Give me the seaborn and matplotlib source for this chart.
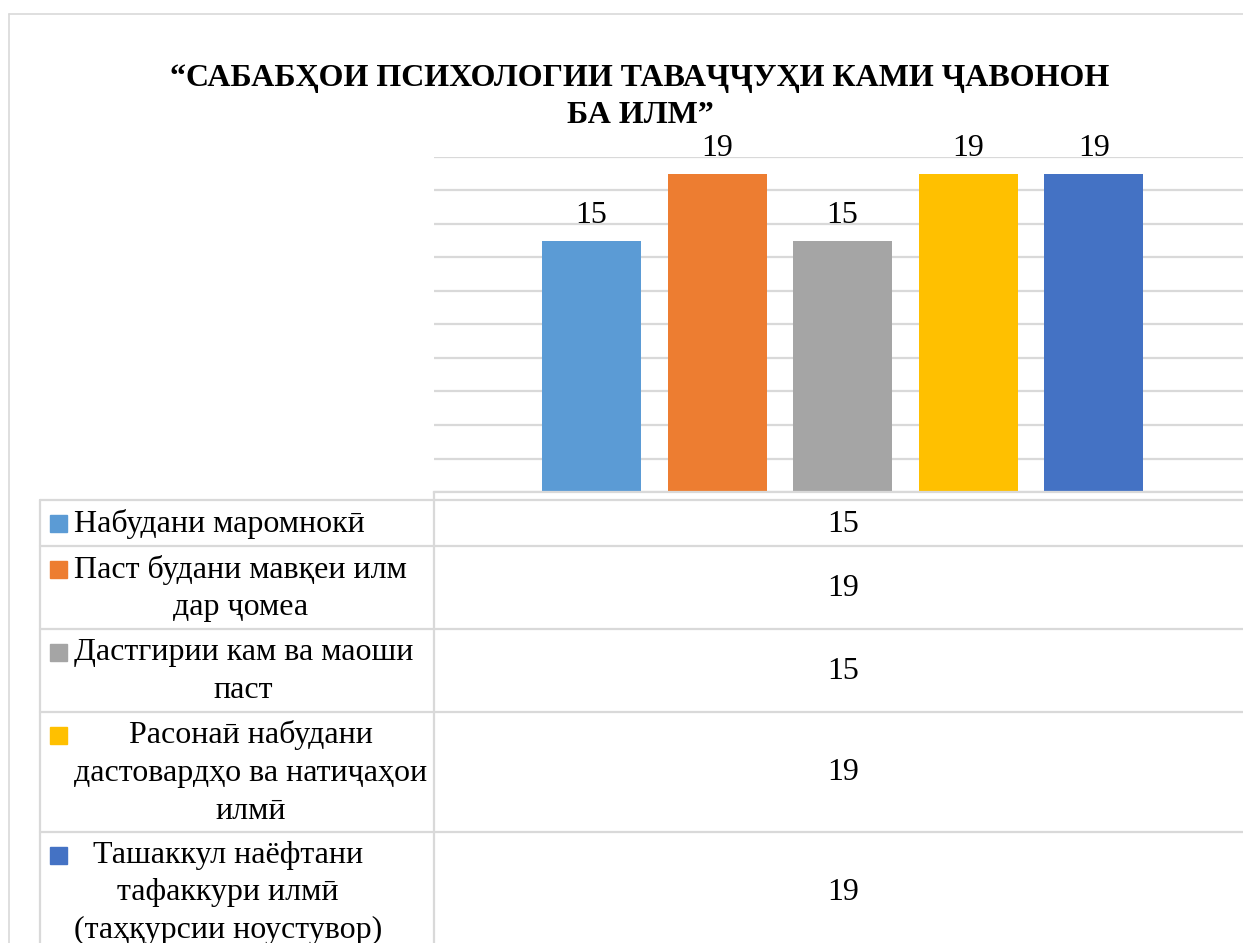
import pandas as pd
import matplotlib.pyplot as plt
from matplotlib.patches import Rectangle
import seaborn as sns

# data
categories = ['Набудани маромнокӣ',
              'Паст будани мавқеи илм\nдар ҷомеа',
              'Дастгирии кам ва маоши\nпаст',
              'Расонаӣ набудани\nдастовардҳо ва натиҷаҳои\nилмӣ',
              'Ташаккул наёфтани\nтафаккури илмӣ\n(таҳқурсии ноустувор)']
values = [15, 19, 15, 19, 19]
colors = ['#5B9BD5', '#ED7D31', '#A5A5A5', '#FFC000', '#4472C4']
title = '“САБАБҲОИ ПСИХОЛОГИИ ТАВАҶҶУҲИ КАМИ ҶАВОНОН\nБА ИЛМ”'

sns.set_theme(style='white')
plt.rcParams['font.family'] = ['Liberation Serif', 'DejaVu Serif']
plt.rcParams['text.color'] = 'black'

W, H = 1243, 943
grey = '#d9d9d9'
fs = 23
fig = plt.figure(figsize=(W / 100, H / 100), dpi=100)

# bar chart area
ax = fig.add_axes([434 / W, 1 - 492 / H, 818 / W, 335 / H])
df = pd.DataFrame({'cat': categories, 'val': values})
sns.barplot(data=df, x='cat', y='val', hue='cat', palette=colors, width=0.79,
            saturation=1, legend=False, linewidth=0, ax=ax)
ax.set_xlim(-1.255, 5.26)
ax.set_ylim(0, 20)
ax.set_yticks(range(0, 21, 2))
ax.grid(axis='y', color=grey, lw=1.6)
ax.set_axisbelow(True)
ax.set_xticks([])
ax.tick_params(left=False, labelleft=False)
ax.set_xlabel('')
ax.set_ylabel('')
for s in ['left', 'right', 'top']:
    ax.spines[s].set_visible(False)
ax.spines['bottom'].set_color(grey)
ax.spines['bottom'].set_linewidth(1.6)
for c in ax.containers:
    ax.bar_label(c, fontsize=fs, padding=8, color='black')

fig.text(640 / W, 1 - 97 / H, title, ha='center', va='center', fontsize=23,
         fontweight='bold', linespacing=1.38, color='black')

# data table overlay, in pixel coordinates
tax = fig.add_axes([0, 0, 1, 1], zorder=-1)
tax.set_xlim(0, W)
tax.set_ylim(H, 0)
tax.axis('off')

tax.plot([9, 9], [14, H], color=grey, lw=1.2)
tax.plot([9, W], [14, 14], color=grey, lw=1.2)

y = 500
tax.plot([40, W], [y, y], color=grey, lw=1.6)
for lab, val, col in zip(categories, values, colors):
    n = lab.count('\n') + 1
    h = 9 + 37 * n
    mid = y + h / 2
    first = mid - (n - 1) * 37 / 2
    tax.add_patch(Rectangle((50, first - 8.5), 17, 17, color=col))
    tax.text(74, mid + 1, lab, ha='left', va='center', multialignment='center',
             fontsize=fs, linespacing=1.4)
    tax.text(843, mid + 1, str(val), ha='center', va='center', fontsize=fs)
    y += h
    tax.plot([40, W], [y, y], color=grey, lw=1.6)
tax.plot([40, 40], [500, H], color=grey, lw=1.6)
tax.plot([434, 434], [492, H], color=grey, lw=1.6)

fig.savefig('out.png', dpi=100)
